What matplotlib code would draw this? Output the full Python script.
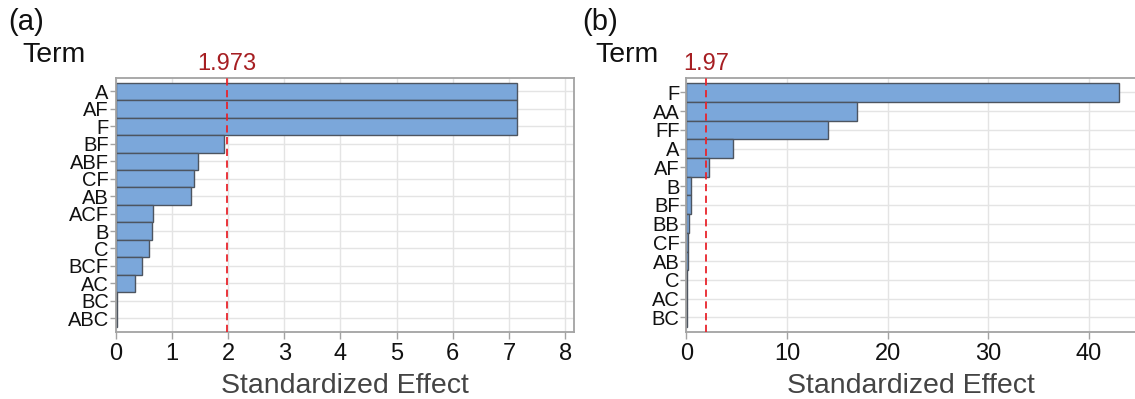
import matplotlib

matplotlib.use("Agg")
import matplotlib.pyplot as plt

plt.rcParams["font.family"] = ["Liberation Sans", "DejaVu Sans"]

# panel (a)
terms_a = ["A", "AF", "F", "BF", "ABF", "CF", "AB", "ACF", "B", "C", "BCF", "AC", "BC", "ABC"]
effect_a = [7.15, 7.15, 7.15, 1.93, 1.47, 1.39, 1.34, 0.67, 0.65, 0.60, 0.475, 0.35, 0.02, 0.015]
crit_a = 1.973
label_a = "1.973"
xticks_a = [0, 1, 2, 3, 4, 5, 6, 7, 8]

# panel (b)
terms_b = ["F", "AA", "FF", "A", "AF", "B", "BF", "BB", "CF", "AB", "C", "AC", "BC"]
effect_b = [43.0, 17.0, 14.1, 4.65, 2.19, 0.43, 0.45, 0.22, 0.10, 0.10, 0.02, 0.02, 0.02]
crit_b = 1.97
label_b = "1.97"
xticks_b = [0, 10, 20, 30, 40]

BAR = "#7ba7da"
EDGE = "#4d5560"
RED = "#e8242c"
DARKRED = "#a61e22"
GRID = "#e4e4e4"
SPINE = "#a3a3a3"

W, H = 1135, 399
fig = plt.figure(figsize=(W / 100, H / 100), dpi=100)


def panel(rect, terms, effects, crit, crit_label, xticks, xmax, tag, tag_x, term_x, right_spine=True):
    ax = fig.add_axes(rect)
    n = len(terms)
    ypos = list(range(n))
    ax.barh(ypos, effects, height=1.0, color=BAR, edgecolor=EDGE, linewidth=1.0, zorder=2)
    ax.set_yticks(ypos)
    ax.set_yticklabels(terms, fontsize=14.5, color="#111111")
    ax.set_ylim(n - 0.5 + 0.27, -0.5 - 0.27)
    ax.set_xlim(0, xmax)
    ax.set_xticks(xticks)
    ax.tick_params(axis="x", labelsize=17, colors=SPINE, labelcolor="#111111",
                   length=5, width=1, pad=3)
    ax.tick_params(axis="y", colors=SPINE, labelcolor="#111111", length=4, width=1, pad=1)
    ax.set_axisbelow(True)
    ax.grid(True, color=GRID, linewidth=1.0)
    for s in ax.spines.values():
        s.set_color(SPINE)
        s.set_linewidth(1.3)
    if not right_spine:
        ax.spines["right"].set_visible(False)
    ax.axvline(crit, color=RED, linestyle=(0, (4, 2.5)), linewidth=1.3, zorder=3, clip_on=False)
    ax.text(crit, 1.01, crit_label, transform=ax.get_xaxis_transform(), ha="center",
            va="bottom", fontsize=17, color=DARKRED)
    ax.set_xlabel("Standardized Effect", fontsize=20.5, color="#444444", labelpad=6)
    fig.text(tag_x, 1 - 22 / H, tag, fontsize=21, ha="left", va="center", color="#111111")
    fig.text(term_x, 1 - 55 / H, "Term", fontsize=20.5, ha="left", va="center", color="#111111")
    return ax


bottom = (H - 331.7) / H
height = (331.7 - 78) / H
panel([115.7 / W, bottom, 457.8 / W, height], terms_a, effect_a, crit_a, label_a,
      xticks_a, 8.15, "(a)", 8 / W, 22 / W)
panel([686.5 / W, bottom, 448.5 / W, height], terms_b, effect_b, crit_b, label_b,
      xticks_b, 44.6, "(b)", 582 / W, 595 / W, right_spine=False)

fig.savefig("out.png", dpi=100)
